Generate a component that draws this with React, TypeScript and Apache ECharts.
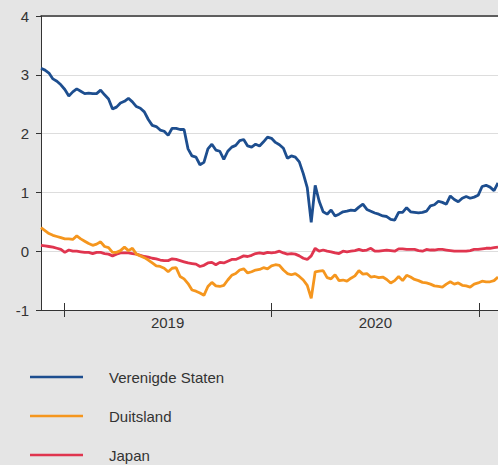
import React, { useEffect, useRef } from "react";
import * as echarts from "echarts";

const START = Date.UTC(2018, 10, 21);
const DAY = 86400000;
const WEEK = 7 * DAY;

const usValues = [
  3.11, 3.08, 3.03, 2.93, 2.89, 2.83, 2.75, 2.64, 2.71, 2.76,
  2.72, 2.68, 2.69, 2.68, 2.68, 2.74, 2.66, 2.59, 2.42, 2.45,
  2.52, 2.55, 2.60, 2.54, 2.46, 2.43, 2.37, 2.24, 2.14, 2.12,
  2.06, 2.04, 1.97, 2.09, 2.09, 2.07, 2.07, 1.74, 1.62, 1.60,
  1.47, 1.51, 1.74, 1.82, 1.72, 1.70, 1.56, 1.70, 1.77, 1.80,
  1.88, 1.90, 1.79, 1.77, 1.82, 1.79, 1.86, 1.94, 1.92, 1.85,
  1.81, 1.75, 1.58, 1.62, 1.60, 1.52, 1.32, 1.08, 0.49, 1.12,
  0.85, 0.67, 0.63, 0.70, 0.60, 0.63, 0.67, 0.68, 0.70, 0.69,
  0.75, 0.80, 0.71, 0.68, 0.65, 0.63, 0.60, 0.59, 0.54, 0.53,
  0.66, 0.66, 0.74, 0.67, 0.66, 0.65, 0.66, 0.68, 0.77, 0.79,
  0.85, 0.83, 0.80, 0.94, 0.88, 0.84, 0.90, 0.93, 0.90, 0.92,
  0.95, 1.10, 1.12, 1.09, 1.03, 1.16,
];

const deValues = [
  0.40, 0.35, 0.30, 0.27, 0.25, 0.23, 0.21, 0.21, 0.20, 0.26,
  0.21, 0.17, 0.13, 0.10, 0.12, 0.16, 0.08, 0.06, -0.02, -0.02,
  0.01, 0.07, 0.01, 0.05, -0.05, -0.08, -0.11, -0.15, -0.20, -0.25,
  -0.26, -0.29, -0.35, -0.29, -0.28, -0.43, -0.47, -0.55, -0.66, -0.68,
  -0.71, -0.75, -0.60, -0.53, -0.59, -0.60, -0.58, -0.49, -0.41, -0.38,
  -0.32, -0.30, -0.37, -0.35, -0.32, -0.31, -0.28, -0.30, -0.25, -0.23,
  -0.24, -0.32, -0.38, -0.40, -0.38, -0.43, -0.49, -0.58, -0.80, -0.35,
  -0.34, -0.33, -0.45, -0.47, -0.40, -0.50, -0.49, -0.51, -0.46, -0.42,
  -0.33, -0.39, -0.38, -0.44, -0.43, -0.45, -0.44, -0.48, -0.54, -0.50,
  -0.43, -0.50, -0.41, -0.44, -0.48, -0.50, -0.53, -0.54, -0.56, -0.59,
  -0.60, -0.61, -0.56, -0.52, -0.56, -0.54, -0.58, -0.59, -0.61, -0.56,
  -0.54, -0.51, -0.52, -0.52, -0.50, -0.44,
];

const jpValues = [
  0.10, 0.09, 0.08, 0.07, 0.05, 0.03, -0.02, 0.02, 0.00, 0.00,
  -0.01, -0.02, -0.02, -0.04, -0.02, -0.02, -0.04, -0.05, -0.08, -0.05,
  -0.03, -0.03, -0.03, -0.04, -0.05, -0.07, -0.09, -0.10, -0.12, -0.13,
  -0.15, -0.16, -0.16, -0.13, -0.14, -0.16, -0.18, -0.20, -0.21, -0.22,
  -0.26, -0.24, -0.20, -0.19, -0.23, -0.19, -0.20, -0.17, -0.14, -0.14,
  -0.11, -0.08, -0.09, -0.07, -0.04, -0.03, -0.04, -0.02, -0.03, -0.02,
  0.00, -0.03, -0.05, -0.04, -0.05, -0.08, -0.12, -0.14, -0.08, 0.05,
  0.00, 0.02, 0.00, -0.01, -0.03, -0.04, 0.00, -0.01, 0.00, 0.01,
  0.03, 0.01, 0.02, 0.05, 0.00, 0.00, 0.01, 0.02, 0.01, 0.00,
  0.04, 0.04, 0.03, 0.03, 0.03, 0.01, 0.00, 0.03, 0.02, 0.02,
  0.03, 0.03, 0.02, 0.01, 0.00, 0.00, 0.00, 0.00, 0.01, 0.03,
  0.03, 0.04, 0.05, 0.05, 0.06, 0.07,
];

const seriesNames = ["Verenigde Staten", "Duitsland", "Japan"];
const seriesColors = ["#1d4e8f", "#f5961e", "#e0354f"];
const yearTicks = [Date.UTC(2019, 0, 1), Date.UTC(2020, 0, 1), Date.UTC(2021, 0, 1)];
const yearLabels = [Date.UTC(2019, 6, 2), Date.UTC(2020, 6, 2)];

const dates = usValues.map((_, i) => START + i * WEEK);
const X_MIN = START;
const X_MAX = START + (usValues.length - 1) * WEEK;

const FONT = "Liberation Sans, Arial, sans-serif";

export default function App() {
  const ref = useRef<HTMLDivElement>(null);
  useEffect(() => {
    if (!ref.current) return;
    const chart = echarts.init(ref.current, null, { renderer: "svg" });
    const all = [usValues, deValues, jpValues];
    const baseX = {
      type: "value",
      min: X_MIN,
      max: X_MAX,
      splitLine: { show: false },
    };
    chart.setOption({
      animation: false,
      backgroundColor: "#e5e5e5",
      textStyle: { fontFamily: FONT },
      grid: {
        left: 41,
        right: 0,
        top: 16,
        bottom: 155,
        show: true,
        backgroundColor: "#ffffff",
        borderWidth: 0,
      },
      legend: {
        orient: "vertical",
        left: 30,
        top: 369,
        padding: 0,
        height: 96,
        icon: "rect",
        itemWidth: 53,
        itemHeight: 2.5,
        itemGap: 23,
        data: seriesNames,
        textStyle: {
          fontSize: 15,
          lineHeight: 16,
          color: "#333333",
          fontFamily: FONT,
          padding: [0, 0, 0, 21],
        },
      },
      xAxis: [
        {
          ...baseX,
          position: "bottom",
          axisLine: { show: true, onZero: false, lineStyle: { color: "#333333", width: 1 } },
          axisTick: {
            show: true,
            inside: true,
            length: 7,
            customValues: yearTicks,
            lineStyle: { color: "#333333" },
          },
          axisLabel: {
            show: true,
            customValues: yearLabels,
            formatter: (v: number) => String(new Date(v).getUTCFullYear()),
            fontSize: 15,
            color: "#333333",
            margin: 5,
            fontFamily: FONT,
          },
        },
        {
          ...baseX,
          position: "bottom",
          axisLine: { show: false, onZero: false },
          axisTick: {
            show: true,
            inside: false,
            length: 7,
            customValues: yearTicks,
            lineStyle: { color: "#333333" },
          },
          axisLabel: { show: false },
        },
        {
          ...baseX,
          position: "top",
          axisLine: { show: true, onZero: false, lineStyle: { color: "#333333", width: 1.5 } },
          axisTick: { show: false },
          axisLabel: { show: false },
        },
      ],
      yAxis: {
        type: "value",
        min: -1,
        max: 4,
        interval: 1,
        axisLine: { show: true, onZero: false, lineStyle: { color: "#333333", width: 1 } },
        axisTick: { show: true, length: 5, lineStyle: { color: "#333333" } },
        axisLabel: { fontSize: 15, color: "#333333", margin: 12, fontFamily: FONT },
        splitLine: { show: true, lineStyle: { color: "#dddddd", width: 1 } },
      },
      series: seriesNames.map((name, k) => ({
        name,
        type: "line",
        xAxisIndex: 0,
        symbol: "none",
        showSymbol: false,
        data: all[k].map((v, i) => [dates[i], v]),
        lineStyle: { color: seriesColors[k], width: 2.8 },
        itemStyle: { color: seriesColors[k] },
        z: 3 - k,
      })),
    });
    return () => chart.dispose();
  }, []);
  return (
    <div
      ref={ref}
      style={{ position: "fixed", left: 0, top: 0, width: 498, height: 465 }}
    />
  );
}
